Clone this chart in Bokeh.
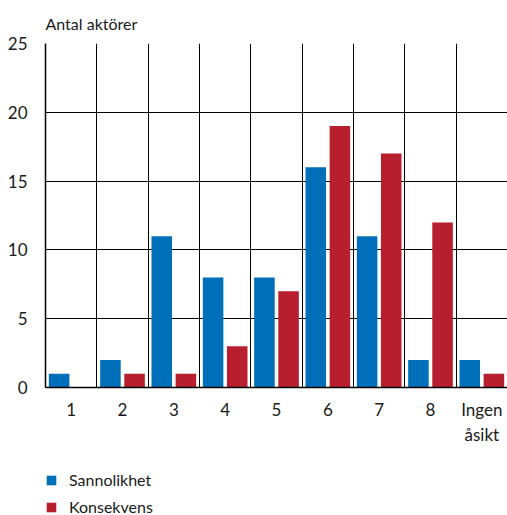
import numpy as np
from bokeh.plotting import figure
from bokeh.layouts import column
from bokeh.models import (ColumnDataSource, FixedTicker, Range1d, Legend, LegendItem)
from bokeh.embed import file_html
from bokeh.resources import INLINE

categories = ["1", "2", "3", "4", "5", "6", "7", "8", "Ingen\nåsikt"]
sannolikhet = [1, 2, 11, 8, 8, 16, 11, 2, 2]
konsekvens = [0, 1, 1, 3, 7, 19, 17, 12, 1]
y_ticks = [0, 5, 10, 15, 20, 25]
series_names = ["Sannolikhet", "Konsekvens"]

FONT = "Lato"
TXT = "#1a1a1a"
BLUE = "#006FB9"
RED = "#B81F2E"

pos = np.arange(len(categories)) + 0.5
src = ColumnDataSource(dict(
    xs=pos - 0.235, xk=pos + 0.235,
    s=sannolikhet, k=konsekvens,
))

p = figure(width=507, height=447, output_backend="svg", toolbar_location=None,
           x_range=Range1d(0, len(categories)), y_range=Range1d(0, 25),
           min_border_left=45, min_border_right=0, min_border_top=42,
           min_border_bottom=40, title="Antal aktörer")
p.outline_line_color = None
p.background_fill_color = "white"
p.title.text_font = FONT
p.title.text_font_size = "16px"
p.title.text_font_style = "normal"
p.title.text_color = TXT
p.title.align = "left"
p.title.standoff = 22

p.vbar(x="xs", top="s", width=0.4, source=src, color=BLUE, line_color=None)
p.vbar(x="xk", top="k", width=0.4, source=src, color=RED, line_color=None)

# axes
p.xaxis.ticker = FixedTicker(ticks=list(pos))
p.xaxis.major_label_overrides = {float(x): c for x, c in zip(pos, categories)}
p.yaxis.ticker = FixedTicker(ticks=y_ticks)
for ax in (p.xaxis[0], p.yaxis[0]):
    ax.major_tick_line_color = None
    ax.minor_tick_line_color = None
    ax.axis_line_color = "black"
    ax.axis_line_width = 1.5
    ax.major_label_text_font = FONT
    ax.major_label_text_font_size = "17px"
    ax.major_label_text_color = TXT
p.xaxis.major_label_standoff = 5
p.yaxis.major_label_standoff = 12

# grid
p.xgrid.ticker = FixedTicker(ticks=list(range(len(categories) + 1)))
p.xgrid.grid_line_color = "black"
p.xgrid.grid_line_width = 1
p.ygrid.ticker = FixedTicker(ticks=y_ticks)
p.ygrid.grid_line_color = "black"
p.ygrid.grid_line_width = 1

# legend panel below the chart (its proxy bars fall far below its visible range)
lg = figure(width=507, height=68, output_backend="svg", toolbar_location=None,
            x_range=Range1d(0, len(categories)), y_range=Range1d(1000, 1001),
            x_axis_location=None, y_axis_location=None,
            min_border=0, outline_line_color=None)
lg.grid.visible = False
l1 = lg.vbar(x="xs", top="s", width=0.4, source=src, color=BLUE, line_color=None)
l2 = lg.vbar(x="xk", top="k", width=0.4, source=src, color=RED, line_color=None)
legend = Legend(items=[LegendItem(label=series_names[0], renderers=[l1]),
                       LegendItem(label=series_names[1], renderers=[l2])],
                location=(0, -1), orientation="vertical",
                glyph_width=12, glyph_height=12, label_standoff=12,
                spacing=8, padding=0, margin=0,
                border_line_color=None, background_fill_alpha=0,
                label_text_font=FONT, label_text_font_size="16px",
                label_text_color=TXT)
lg.add_layout(legend)

layout = column(p, lg, spacing=0)
open("out.html", "w").write(file_html(layout, INLINE))
